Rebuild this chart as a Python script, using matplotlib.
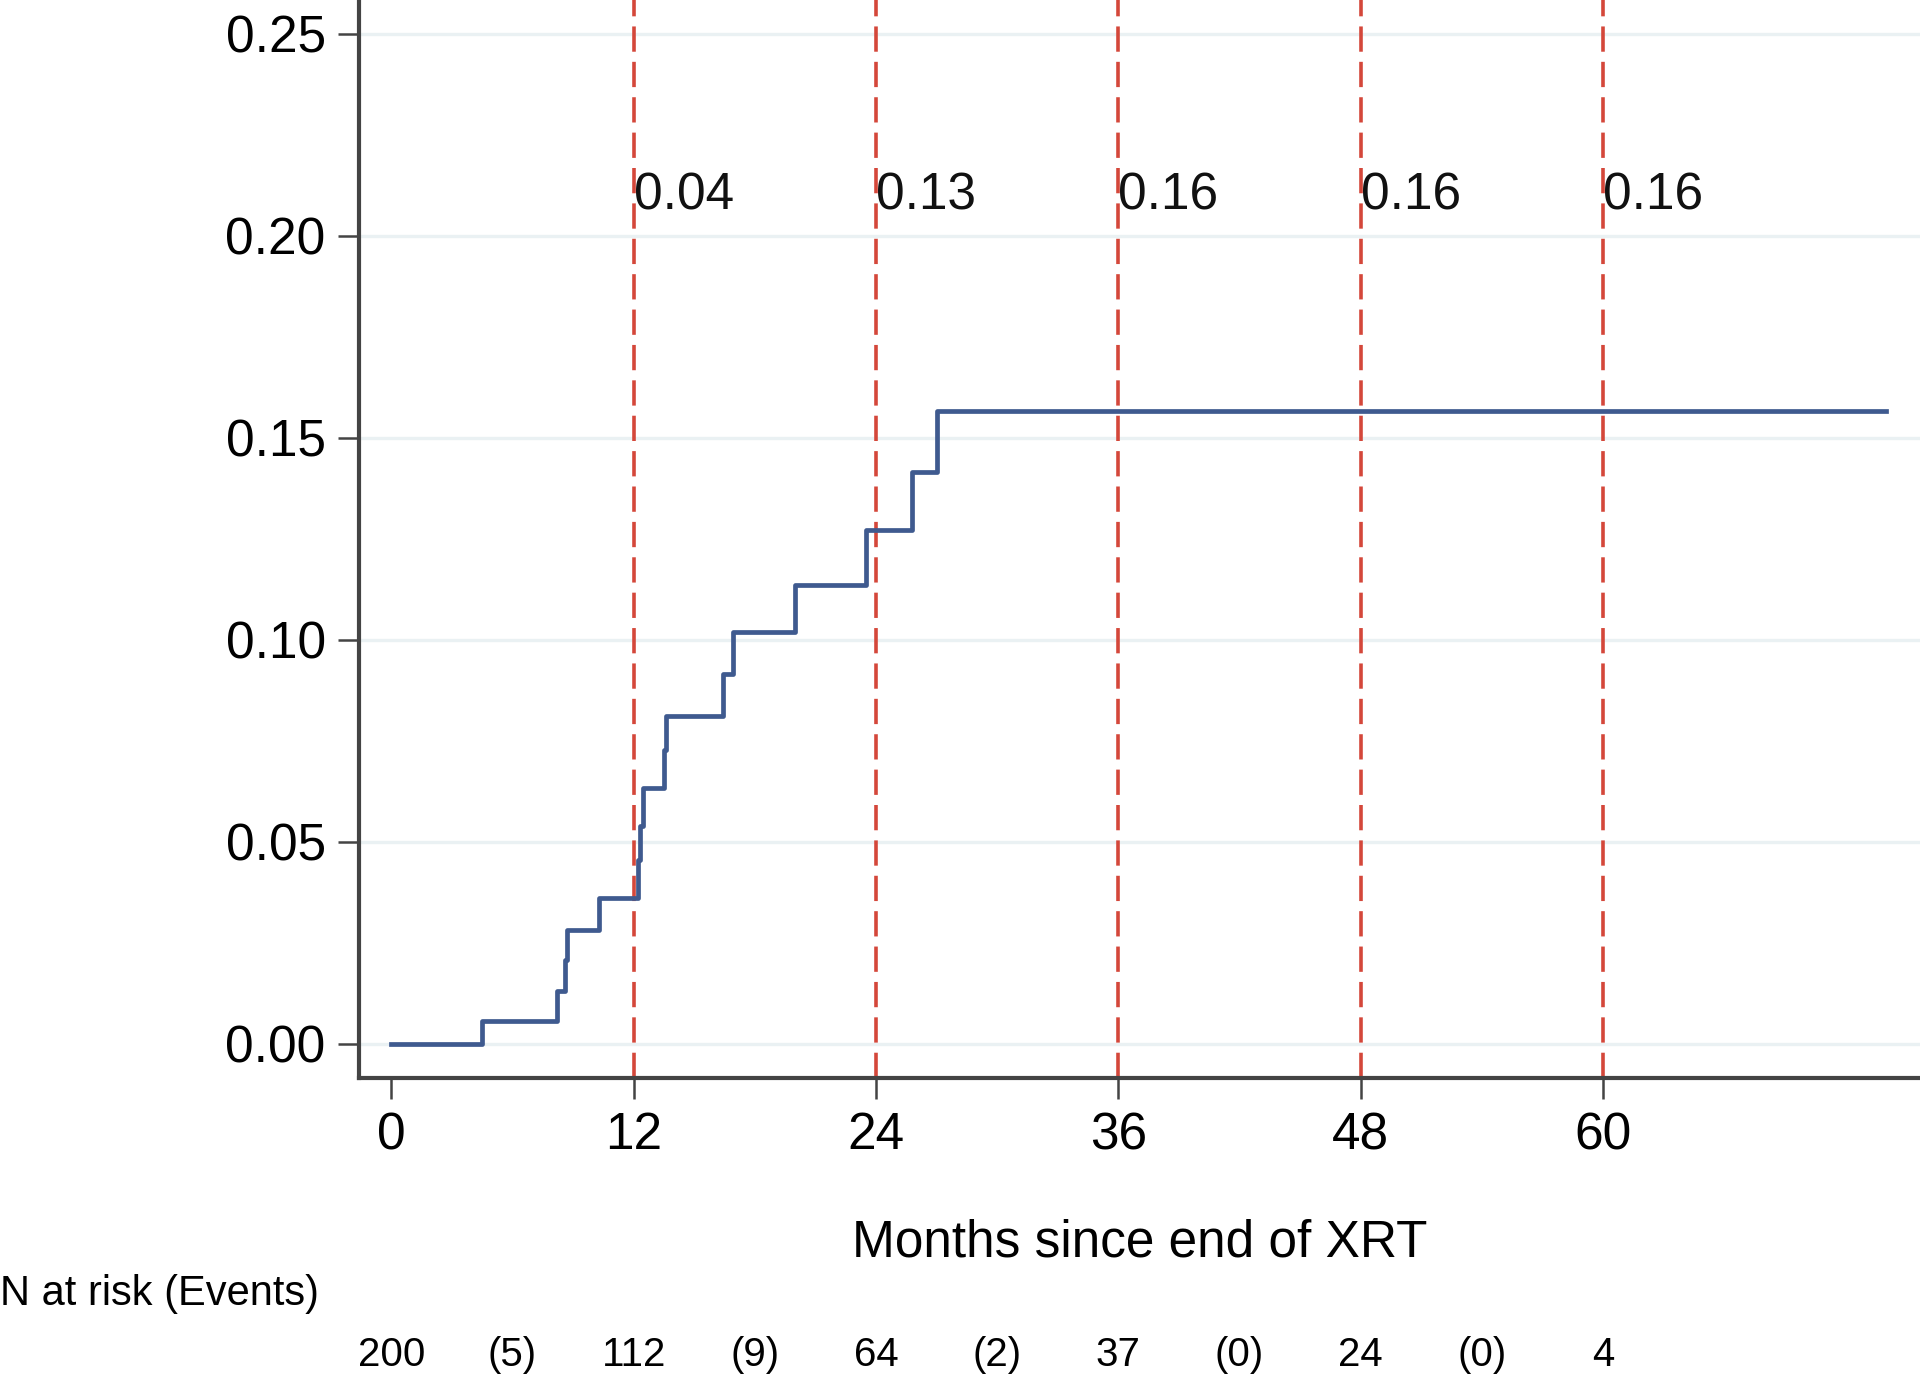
import matplotlib
matplotlib.use("Agg")
import matplotlib.pyplot as plt
import numpy as np

plt.rcParams['font.family'] = ['Liberation Sans', 'DejaVu Sans']

# step times (months) and cumulative incidence after each step
step_times = [0, 4.5, 8.2, 8.6, 8.7, 10.3, 12.2, 12.3, 12.45, 13.5, 13.6, 16.4, 16.9, 20.0, 23.5, 25.8, 27.0, 74.0]
step_vals = [0.0, 0.0058, 0.0132, 0.0209, 0.0281, 0.0362, 0.0456, 0.0539, 0.0633, 0.0727, 0.0813, 0.0915, 0.102, 0.1136, 0.1271, 0.1415, 0.1567, 0.1567]

mark_times = [12, 24, 36, 48, 60]
mark_labels = ["0.04", "0.13", "0.16", "0.16", "0.16"]

risk_times = [0, 12, 24, 36, 48, 60]
n_at_risk = ["200", "112", "64", "37", "24", "4"]
event_times = [6, 18, 30, 42, 54]
events = ["(5)", "(9)", "(2)", "(0)", "(0)"]

fig = plt.figure(figsize=(19.2, 13.77), dpi=100)
ax = fig.add_axes([0.187, 0.2172, 0.813, 0.7828])

ax.set_xlim(-1.6, 75.7)
ax.set_ylim(-0.0084, 0.2584)

for y in [0, 0.05, 0.10, 0.15, 0.20, 0.25]:
    ax.axhline(y, color='#eaf1f3', lw=2.4, zorder=0)

ax.step(step_times, step_vals, where='post', color='#3f5a8f', lw=3.4, zorder=3)

for t, lab in zip(mark_times, mark_labels):
    ax.axvline(t, color='#d4473a', lw=2.6, dashes=(7, 2.8), zorder=2)
    ax.text(t, 0.21, lab, fontsize=37, ha='left', va='center', color='#111111', zorder=4)

for s in ['top', 'right']:
    ax.spines[s].set_visible(False)
for s in ['left', 'bottom']:
    ax.spines[s].set_linewidth(3)
    ax.spines[s].set_color('#444444')

ax.set_xticks(risk_times)
ax.set_yticks([0, 0.05, 0.10, 0.15, 0.20, 0.25])
ax.set_yticklabels(["0.00", "0.05", "0.10", "0.15", "0.20", "0.25"])
ax.tick_params(axis='both', labelsize=37, length=15, width=1.8, color='#444444', pad=9)

ax.set_xlabel("Months since end of XRT", fontsize=37, labelpad=42)

fig.text(0.0, 1 - 1294 / 1377, "N at risk (Events)", fontsize=30, ha='left', va='center')
for t, n in zip(risk_times, n_at_risk):
    ax.annotate(n, xy=(t, 0), xycoords=('data', 'figure fraction'), xytext=(0, 1377 - 1355),
                textcoords='offset pixels', ha='center', va='center', fontsize=29)
for t, e in zip(event_times, events):
    ax.annotate(e, xy=(t, 0), xycoords=('data', 'figure fraction'), xytext=(0, 1377 - 1355),
                textcoords='offset pixels', ha='center', va='center', fontsize=29)

fig.savefig("out.png", dpi=100, facecolor='white')
